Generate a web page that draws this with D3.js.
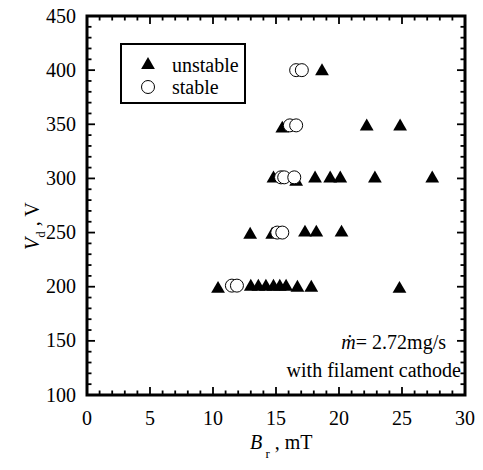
<!DOCTYPE html>
<html>
<head>
<meta charset="utf-8">
<script src="https://cdn.jsdelivr.net/npm/d3@7"></script>
<style>
  html, body { margin: 0; padding: 0; background: #fff; }
  svg { display: block; }
  text { font-family: "Liberation Serif", "Times New Roman", serif; fill: #000; }
</style>
</head>
<body>
<svg id="chart" width="483" height="470"></svg>
<script>
// Discharge voltage vs. radial magnetic field, filament cathode
const unstableB = [10.4, 13.0, 13.6, 14.2, 14.8, 15.3, 15.8, 16.7, 17.8, 24.8,
                   12.95, 14.7, 17.3, 18.2, 20.2,
                   14.8, 16.6, 18.1, 19.3, 20.1, 22.85, 27.4,
                   15.5, 22.2, 24.85,
                   18.65];
const unstableV = [198, 200, 200, 200, 200, 200, 200, 199, 199, 198,
                   248, 248, 250, 250, 250,
                   300, 297, 300, 300, 300, 300, 300,
                   346, 348, 348,
                   399];
const stableB = [11.5, 11.9,
                 15.1, 15.5,
                 15.4, 15.65, 16.45,
                 16.1, 16.6,
                 16.6, 17.05];
const stableV = [201, 201,
                 250, 250,
                 301, 301, 301,
                 349, 349,
                 400, 400];

const xTicks = [0, 5, 10, 15, 20, 25, 30];
const yTicks = [100, 150, 200, 250, 300, 350, 400, 450];

(function draw() {
  const svg = d3.select("#chart");
  const mL = 87, mR = 465, mT = 16, mB = 395;

  const x = d3.scaleLinear().domain([0, 30]).range([mL, mR]);
  const y = d3.scaleLinear().domain([100, 450]).range([mB, mT]);

  const fontSize = 20;

  // minor + major ticks on all four sides, pointing inward
  const g = svg.append("g");
  const xMinor = d3.range(0, 31, 1);
  const yMinor = d3.range(100, 451, 10);
  const tickLen = major => major ? 8 : 4.5;

  xMinor.forEach(v => {
    const L = tickLen(v % 5 === 0);
    g.append("line").attr("x1", x(v)).attr("x2", x(v)).attr("y1", mB).attr("y2", mB - L)
      .attr("stroke", "#000").attr("stroke-width", 1.8);
    g.append("line").attr("x1", x(v)).attr("x2", x(v)).attr("y1", mT).attr("y2", mT + L)
      .attr("stroke", "#000").attr("stroke-width", 1.8);
  });
  yMinor.forEach(v => {
    const L = tickLen(v % 50 === 0);
    g.append("line").attr("y1", y(v)).attr("y2", y(v)).attr("x1", mL).attr("x2", mL + L)
      .attr("stroke", "#000").attr("stroke-width", 1.8);
    g.append("line").attr("y1", y(v)).attr("y2", y(v)).attr("x1", mR).attr("x2", mR - L)
      .attr("stroke", "#000").attr("stroke-width", 1.8);
  });

  // frame
  svg.append("rect").attr("x", mL).attr("y", mT)
    .attr("width", mR - mL).attr("height", mB - mT)
    .attr("fill", "none").attr("stroke", "#000").attr("stroke-width", 3);

  // tick labels
  svg.append("g").selectAll("text").data(yTicks).join("text")
    .attr("x", mL - 11).attr("y", d => y(d)).attr("dy", "0.33em")
    .attr("text-anchor", "end").attr("font-size", fontSize).text(d => d);
  svg.append("g").selectAll("text").data(xTicks).join("text")
    .attr("x", d => x(d)).attr("y", mB + 30)
    .attr("text-anchor", "middle").attr("font-size", fontSize).text(d => d);

  // axis titles
  const xt = svg.append("text").attr("x", 250).attr("y", 449)
    .attr("font-size", fontSize);
  xt.append("tspan").attr("font-style", "italic").text("B");
  xt.append("tspan").attr("font-size", 13).attr("dy", 9).text(" r");
  xt.append("tspan").attr("dy", -9).text(" , mT");

  const yt = svg.append("text")
    .attr("transform", "translate(39,250) rotate(-90)")
    .attr("font-size", fontSize);
  yt.append("tspan").attr("font-style", "italic").text("V");
  yt.append("tspan").attr("font-size", 13).attr("dy", 6).text("d");
  yt.append("tspan").attr("dy", -6).text(" , V");

  // markers
  const tri = d3.symbol().type(d3.symbolTriangle).size(82);
  svg.append("g").selectAll("path").data(unstableB.map((b, i) => [b, unstableV[i]])).join("path")
    .attr("transform", d => `translate(${x(d[0])},${y(d[1])})`)
    .attr("d", tri).attr("fill", "#000");

  svg.append("g").selectAll("circle").data(stableB.map((b, i) => [b, stableV[i]])).join("circle")
    .attr("cx", d => x(d[0])).attr("cy", d => y(d[1])).attr("r", 6.5)
    .attr("fill", "#fff").attr("stroke", "#000").attr("stroke-width", 1);

  // legend
  svg.append("rect").attr("x", 121).attr("y", 44).attr("width", 124).attr("height", 59)
    .attr("fill", "#fff").attr("stroke", "#000").attr("stroke-width", 2);
  svg.append("path").attr("transform", "translate(148,65)").attr("d", tri).attr("fill", "#000");
  svg.append("circle").attr("cx", 148).attr("cy", 87).attr("r", 6.5)
    .attr("fill", "#fff").attr("stroke", "#000").attr("stroke-width", 1);
  svg.append("text").attr("x", 172).attr("y", 65).attr("dy", "0.33em")
    .attr("font-size", fontSize).text("unstable");
  svg.append("text").attr("x", 172).attr("y", 87).attr("dy", "0.33em")
    .attr("font-size", fontSize).text("stable");

  // annotation
  const a1 = svg.append("text").attr("x", 446).attr("y", 349).attr("text-anchor", "end")
    .attr("font-size", fontSize);
  a1.append("tspan").attr("font-style", "italic").text("ṁ");
  a1.append("tspan").text("= 2.72mg/s");
  svg.append("text").attr("x", 461).attr("y", 377).attr("text-anchor", "end")
    .attr("font-size", fontSize).text("with filament cathode");
})();
</script>
</body>
</html>
